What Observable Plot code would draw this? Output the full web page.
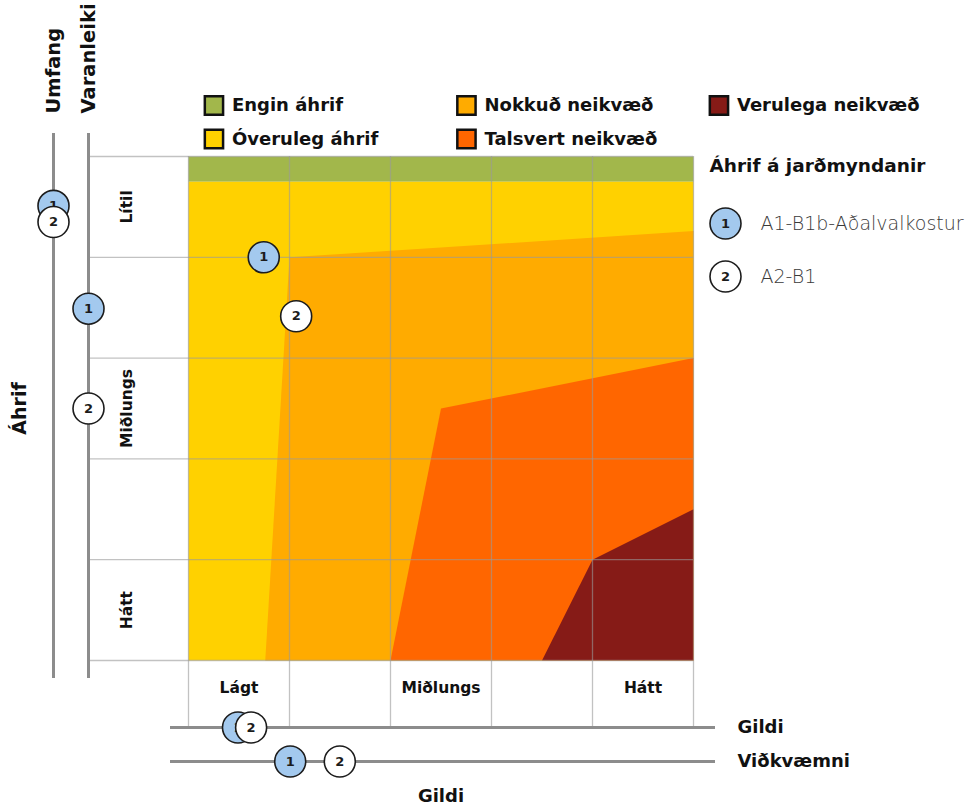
<!DOCTYPE html>
<html><head><meta charset="utf-8">
<script src="https://cdn.jsdelivr.net/npm/d3@7"></script>
<script src="https://cdn.jsdelivr.net/npm/@observablehq/plot@0.6"></script>
<style>body{margin:0;background:#fff}</style>
</head><body><div id="chart"></div>
<script>
// ---- data ----
const colLabels = ["Lágt", "", "Miðlungs", "", "Hátt"];
const rowLabels = ["Lítil", "", "Miðlungs", "", "Hátt"];
const gridTicks = [0, 1, 2, 3, 4, 5];
const zoneNames = ["Engin áhrif", "Óveruleg áhrif", "Nokkuð neikvæð", "Talsvert neikvæð", "Verulega neikvæð"];
const zoneColors = ["#a2b74b", "#ffd100", "#ffab00", "#ff6600", "#861b17"];
// zone outlines in grid units (x = Gildi 0..5, y = Áhrif 0..5 counted from the top)
const zoneEngin = [[0, 0], [5, 0], [5, 0.25], [0, 0.25]];
const zoneOveruleg = [[0, 0.25], [5, 0.25], [5, 5], [0, 5]];
const zoneNokkud = [[1, 1], [5, 0.74], [5, 5], [0.76, 5]];
const zoneTalsvert = [[2.5, 2.5], [5, 2], [5, 5], [2, 5]];
const zoneVerulega = [[4, 4], [5, 3.5], [5, 5], [3.5, 5]];
const optionIds = [1, 2];
const optionNames = ["A1-B1b-Aðalvalkostur", "A2-B1"];
const optionFills = ["#a3c9ee", "#ffffff"];
const gildiPos = [0.745, 1.066];
const ahrifPos = [1.0, 1.585];
const umfang = [0.49, 0.65];
const varanleiki = [1.51, 2.5];
const gildi = [0.49, 0.62];
const vidkvaemni = [1.007, 1.498];
const legendTitle = "Áhrif á jarðmyndanir";

// ---- build ----
const polys = [zoneEngin, zoneOveruleg, zoneNokkud, zoneTalsvert, zoneVerulega];
const polyData = polys.flatMap((p, i) => p.map(([x, y]) => ({zone: zoneNames[i], x, y})));
const options = optionIds.map((id, i) => ({
  id, name: optionNames[i], fill: optionFills[i],
  gx: gildiPos[i], ay: ahrifPos[i], umfang: umfang[i], varanleiki: varanleiki[i],
  gildi: gildi[i], vid: vidkvaemni[i]
}));
const legendItems = zoneNames.map((name, i) => ({name, row: i % 2, col: Math.floor(i / 2)}));

const AXIS = "#8c8c8c";
const GRID = "#9a9a9a";
const R = 15.5;
const dotStyle = {r: R, stroke: "#1c1c1c", strokeWidth: 1.6};
const numStyle = {fontWeight: "bold", fontSize: 13, fill: "#1c1c1c", textAnchor: "middle", lineAnchor: "middle"};
const title = {fontWeight: "bold", fontSize: 18, fill: "#111", lineAnchor: "middle"};

const marks = [
  Plot.line(polyData, {x: "x", y: "y", fill: "zone", curve: "linear-closed", stroke: "none"}),
  Plot.ruleY(gridTicks, {stroke: GRID, strokeOpacity: 0.6, strokeWidth: 1.3, insetLeft: -100}),
  Plot.ruleX(gridTicks, {stroke: GRID, strokeOpacity: 0.6, strokeWidth: 1.3, insetBottom: -68}),
  // side axes
  Plot.ruleX([0], {stroke: AXIS, strokeWidth: 3, dx: -135, insetTop: -23, insetBottom: -18}),
  Plot.ruleX([0], {stroke: AXIS, strokeWidth: 3, dx: -100, insetTop: -23, insetBottom: -18}),
  Plot.ruleY([5], {stroke: AXIS, strokeWidth: 3, dy: 67, insetLeft: -18, insetRight: -22}),
  Plot.ruleY([5], {stroke: AXIS, strokeWidth: 3, dy: 101, insetLeft: -18, insetRight: -22}),
  // category labels
  Plot.text(colLabels, {x: (d, i) => i + 0.5, text: d => d, frameAnchor: "bottom", dy: 28, textAnchor: "middle", lineAnchor: "middle", fontWeight: "bold", fontSize: 15.5, fill: "#111"}),
  Plot.text(rowLabels, {y: (d, i) => i + 0.5, text: d => d, frameAnchor: "left", dx: -61, rotate: -90, textAnchor: "middle", lineAnchor: "middle", fontWeight: "bold", fontSize: 15.5, fill: "#111"}),
  // axis titles
  Plot.text(["Umfang"], {frameAnchor: "top-left", dx: -135, dy: -43, rotate: -90, textAnchor: "start", ...title, fontSize: 19.5}),
  Plot.text(["Varanleiki"], {frameAnchor: "top-left", dx: -100, dy: -43, rotate: -90, textAnchor: "start", ...title, fontSize: 19.5}),
  Plot.text(["Áhrif"], {frameAnchor: "left", dx: -169, rotate: -90, textAnchor: "middle", ...title, fontSize: 19}),
  Plot.text(["Gildi"], {frameAnchor: "bottom", dy: 136, textAnchor: "middle", ...title}),
  Plot.text(["Gildi"], {frameAnchor: "bottom-right", dx: 44, dy: 67, textAnchor: "start", ...title}),
  Plot.text(["Viðkvæmni"], {frameAnchor: "bottom-right", dx: 44, dy: 101, textAnchor: "start", ...title}),
  // zone legend
  ...[0, 1].flatMap(row => {
    const items = legendItems.filter(d => d.row === row);
    const dy = row === 0 ? -51 : -17.5;
    return [
      Plot.dot(items, {x: d => d.col * 2.5 + 0.252, frameAnchor: "top", dy, symbol: "square", r: 10.3, fill: "name", stroke: "#111", strokeWidth: 2.5}),
      Plot.text(items, {x: d => d.col * 2.5 + 0.252, text: "name", frameAnchor: "top", dy, dx: 18, textAnchor: "start", ...title})
    ];
  }),
  // option legend
  Plot.text([legendTitle], {frameAnchor: "top-right", dx: 16, dy: 10, textAnchor: "start", ...title, fontSize: 18.5}),
  ...options.flatMap((o, i) => [
    Plot.dot([o], {frameAnchor: "top-right", dx: 32, dy: 67 + i * 53, fill: "fill", ...dotStyle}),
    Plot.text([o], {frameAnchor: "top-right", dx: 32, dy: 67 + i * 53, text: "id", ...numStyle}),
    Plot.text([o], {frameAnchor: "top-right", dx: 67, dy: 67 + i * 53, text: "name", textAnchor: "start", lineAnchor: "middle", fontSize: 19, fontWeight: 300, fill: "#3a3a3a"})
  ]),
  // option markers
  ...options.flatMap(o => [
    Plot.dot([o], {y: "umfang", frameAnchor: "left", dx: -135, fill: "fill", ...dotStyle}),
    Plot.text([o], {y: "umfang", frameAnchor: "left", dx: -135, text: "id", ...numStyle}),
    Plot.dot([o], {y: "varanleiki", frameAnchor: "left", dx: -100, fill: "fill", ...dotStyle}),
    Plot.text([o], {y: "varanleiki", frameAnchor: "left", dx: -100, text: "id", ...numStyle}),
    Plot.dot([o], {x: "gildi", frameAnchor: "bottom", dy: 67, fill: "fill", ...dotStyle}),
    Plot.text([o], {x: "gildi", frameAnchor: "bottom", dy: 67, text: "id", ...numStyle}),
    Plot.dot([o], {x: "vid", frameAnchor: "bottom", dy: 101, fill: "fill", ...dotStyle}),
    Plot.text([o], {x: "vid", frameAnchor: "bottom", dy: 101, text: "id", ...numStyle}),
    Plot.dot([o], {x: "gx", y: "ay", fill: "fill", ...dotStyle}),
    Plot.text([o], {x: "gx", y: "ay", text: "id", ...numStyle})
  ])
];

const chart = Plot.plot({
  width: 971,
  height: 807,
  marginLeft: 188,
  marginRight: 278,
  marginTop: 156,
  marginBottom: 147,
  style: {fontFamily: "DejaVu Sans, sans-serif", background: "#fff", overflow: "visible"},
  x: {domain: [0, 5], axis: null},
  y: {domain: [0, 5], reverse: true, axis: null},
  color: {domain: zoneNames, range: zoneColors},
  marks
});
document.getElementById("chart").append(chart);
</script>
</body></html>
